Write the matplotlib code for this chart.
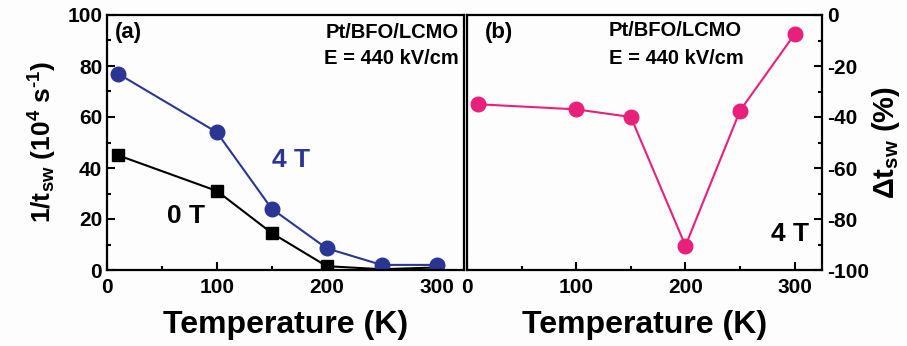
import matplotlib.pyplot as plt
from matplotlib.ticker import MultipleLocator

plt.rcParams['font.family'] = ['Liberation Sans', 'DejaVu Sans']
plt.rcParams['font.weight'] = 'bold'
plt.rcParams['axes.unicode_minus'] = False
plt.rcParams['mathtext.fontset'] = 'custom'
plt.rcParams['mathtext.rm'] = 'Liberation Sans:bold'
plt.rcParams['mathtext.it'] = 'Liberation Sans:bold'
plt.rcParams['mathtext.bf'] = 'Liberation Sans:bold'

temp = [10, 100, 150, 200, 250, 300]
rate_0T = [45, 31, 14.5, 1.5, 0.3, 1.0]
rate_4T = [77, 54, 24, 8.5, 2, 2]
delta_tsw = [-35, -37, -40, -90.5, -37.5, -7.5]

blue = '#2b3594'
pink = '#e8207a'

fig = plt.figure(figsize=(9.07, 3.46), dpi=100)
fig.patch.set_facecolor('#fdfdfd')
ax1 = fig.add_axes([107/907, 76/346, 357/907, 255/346])
ax2 = fig.add_axes([467/907, 76/346, 355/907, 255/346])

ax1.plot(temp, rate_0T, '-s', color='black', ms=9, lw=1.5)
ax1.plot(temp, rate_4T, '-o', color=blue, mfc=blue, ms=10.5, lw=1.5)
ax1.set_xlim(0, 325)
ax1.set_ylim(0, 100)
ax1.set_ylabel(r'1/t$_{\rm sw}$ (10$^{\rm 4}$ s$^{\text{-1}}$)', fontsize=19, fontweight='bold', labelpad=6)
ax1.set_xlabel('Temperature (K)', fontsize=23, fontweight='bold', labelpad=9)
ax1.text(7, 93, '(a)', fontsize=16, fontweight='bold', va='center')
ax1.text(320, 93, 'Pt/BFO/LCMO', fontsize=14.5, fontweight='bold', ha='right', va='center')
ax1.text(320, 83, 'E = 440 kV/cm', fontsize=14.5, fontweight='bold', ha='right', va='center')
ax1.text(150, 43, '4 T', fontsize=19, fontweight='bold', color=blue, va='center')
ax1.text(55, 21, '0 T', fontsize=19, fontweight='bold', color='black', va='center')

ax2.plot(temp, delta_tsw, '-o', color=pink, mfc=pink, ms=10.5, lw=1.5)
ax2.set_xlim(0, 325)
ax2.set_ylim(-100, 0)
ax2.yaxis.tick_right()
ax2.yaxis.set_label_position('right')
ax2.set_ylabel(r'$\Delta$t$_{\rm sw}$ (%)', fontsize=21, fontweight='bold', rotation=90, labelpad=1)
ax2.set_xlabel('Temperature (K)', fontsize=23, fontweight='bold', labelpad=9)
ax2.text(16, -7, '(b)', fontsize=16, fontweight='bold', va='center')
ax2.text(130, -6, 'Pt/BFO/LCMO', fontsize=14.5, fontweight='bold', va='center')
ax2.text(130, -17, 'E = 440 kV/cm', fontsize=14.5, fontweight='bold', va='center')
ax2.text(313, -86, '4 T', fontsize=19, fontweight='bold', ha='right', va='center')

for ax in (ax1, ax2):
    ax.set_facecolor('#fdfdfd')
    ax.xaxis.set_major_locator(MultipleLocator(100))
    ax.xaxis.set_minor_locator(MultipleLocator(50))
    ax.yaxis.set_major_locator(MultipleLocator(20))
    ax.yaxis.set_minor_locator(MultipleLocator(10))
    ax.tick_params(which='both', direction='in', labelsize=15, width=1.5)
    ax.tick_params(which='major', length=6)
    ax.tick_params(which='minor', length=3)
    ax.tick_params(axis='x', pad=6)
    for s in ax.spines.values():
        s.set_linewidth(1.6)
    for lbl in ax.get_xticklabels() + ax.get_yticklabels():
        lbl.set_fontweight('bold')

fig.savefig('out.png', dpi=100, facecolor=fig.get_facecolor())
